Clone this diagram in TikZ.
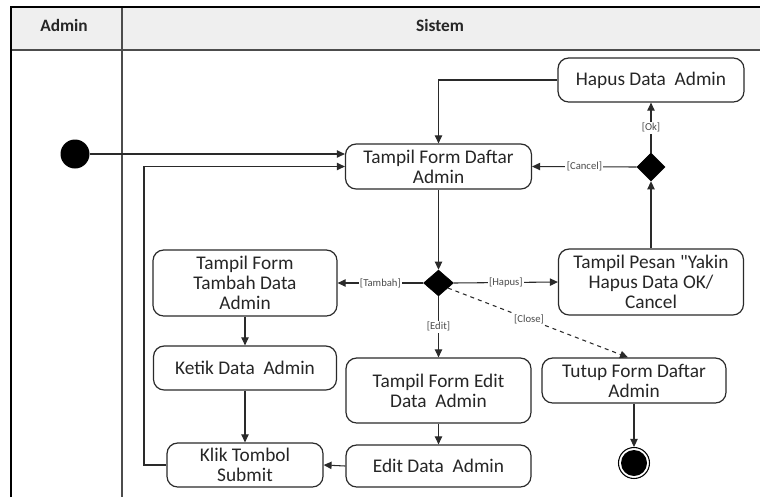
\documentclass[tikz,border=0pt]{standalone}
\usepackage{fontspec}
\setmainfont{Carlito}
\usetikzlibrary{arrows.meta,shapes.geometric,calc}
\definecolor{hdr}{HTML}{EFEFEF}
\definecolor{ln}{HTML}{2A2A2A}
\tikzset{
  act/.style={draw=ln, line width=0.9pt, rounded corners=8pt, fill=white, align=center,
     font=\fontsize{14.5}{15}\selectfont, text=black!85, inner sep=2pt},
  dec/.style={diamond, fill=black, draw=black, inner sep=0pt},
  arr/.style={draw=ln, line width=0.8pt, -{Triangle[length=6pt,width=5.5pt]}},
  arrdash/.style={arr, dashed},
  lbl/.style={fill=white, inner sep=1pt, font=\fontsize{8}{9}\selectfont, text=black!70},
  hd/.style={font=\fontsize{13}{14}\bfseries, text=black!85}
}
\begin{document}
\begin{tikzpicture}[x=0.75pt,y=-0.75pt]
\useasboundingbox (0,0) rectangle (764,497);
% swimlane frame
\fill[hdr] (11,7) rectangle (760,50);
\draw[black!70, line width=1pt] (11,50) -- (760,50);
\draw[black!70, line width=1pt] (122,7) -- (122,497);
\draw[black, line width=2.2pt] (11,497) -- (11,7) -- (760,7);
\node[hd] (hadmin) at (64,25) {Admin};
\node[hd] (hsistem) at (440,25) {Sistem};
% nodes
\node[circle, fill=black, minimum size=29*0.75pt, inner sep=0pt] (init) at (75,154) {};
\node[act, minimum width=186*0.75pt, minimum height=44*0.75pt] (hapus) at (651,80) {Hapus Data\ \ Admin};
\node[act, minimum width=186*0.75pt, minimum height=45*0.75pt] (daftar) at (438.5,166.5) {Tampil Form Daftar\\Admin};
\node[dec, minimum width=28*0.75pt, minimum height=28*0.75pt] (d1) at (651,167) {};
\node[act, minimum width=185*0.75pt, minimum height=66*0.75pt] (pesan) at (651,282) {Tampil Pesan \textquotedbl Yakin\\Hapus Data OK/\\Cancel};
\node[dec, minimum width=30*0.75pt, minimum height=26*0.75pt] (d2) at (438.5,283) {};
\node[act, minimum width=184*0.75pt, minimum height=66*0.75pt] (tambah) at (245,283) {Tampil Form\\Tambah Data\\Admin};
\node[act, minimum width=183*0.75pt, minimum height=44*0.75pt] (ketik) at (245,368) {Ketik Data\ \ Admin};
\node[act, minimum width=185*0.75pt, minimum height=65*0.75pt] (edit1) at (438.5,390.5) {Tampil Form Edit\\Data\ \ Admin};
\node[act, minimum width=184*0.75pt, minimum height=45*0.75pt] (tutup) at (634,380.5) {Tutup Form Daftar\\Admin};
\node[act, minimum width=156*0.75pt, minimum height=44*0.75pt] (klik) at (245,465) {Klik Tombol\\Submit};
\node[act, minimum width=185*0.75pt, minimum height=42*0.75pt] (edit2) at (438.5,466) {Edit Data\ \ Admin};
\node[circle, draw=black, line width=0.8pt, minimum size=31*0.75pt, inner sep=0pt] (final) at (634,463) {};
\fill[black] (final.center) circle (13*0.75pt);
\coordinate (fb) at (144,465);
\coordinate (closeend) at ($(tutup.north)+(-6,0)$);
% connectors
\draw[arr] (init.east) -- (init.east -| daftar.west);
\draw[arr] (klik.west) -- (fb) |- (daftar.west);
\draw[arr] (hapus.west) -| (daftar.north);
\draw[arr] (d1.west) -- node[lbl]{[Cancel]} (daftar.east);
\draw[arr] (d1.north) -- node[lbl]{[Ok]} (hapus.south);
\draw[arr] (pesan.north) -- (d1.south);
\draw[arr] (daftar.south) -- (d2.north);
\draw[arr] (d2.west) -- node[lbl]{[Tambah]} (tambah.east);
\draw[arr] (d2.east) -- node[lbl]{[Hapus]} (pesan.west);
\draw[arr] (d2.south) -- node[lbl]{[Edit]} (edit1.north);
\draw[arrdash] (d2.-28) -- node[lbl,pos=0.45]{[Close]} (closeend);
\draw[arr] (tambah.south) -- (ketik.north);
\draw[arr] (ketik.south) -- (klik.north);
\draw[arr] (edit1.south) -- (edit2.north);
\draw[arr] (edit2.west) -- (klik.east);
\draw[arr] (tutup.south) -- (final.north);
\end{tikzpicture}
\end{document}
